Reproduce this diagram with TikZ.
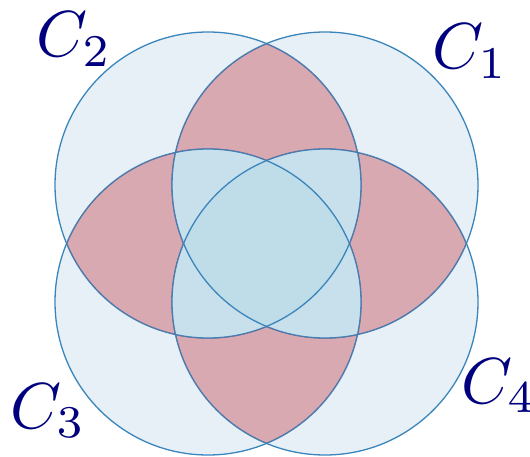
\documentclass[tikz,border=0pt]{standalone}
\usepackage{graphicx}
\definecolor{outerblue}{HTML}{E6F0F6}
\definecolor{lensred}{HTML}{D9A9B1}
\definecolor{tripleblue}{HTML}{C8E0EB}
\definecolor{quadblue}{HTML}{BFDCE9}
\definecolor{edgeblue}{HTML}{3A86BC}
\definecolor{edgepurple}{HTML}{66709E}
\definecolor{labelnavy}{HTML}{00007F}
\newcommand{\biglabel}[1]{\scalebox{6.5}{$#1$}}
\begin{document}
\begin{tikzpicture}[x=1pt,y=-1pt,
  lbl/.style={inner sep=0pt,anchor=base west,text=labelnavy},
  edge/.style={edgeblue,line width=1.3pt},
  redge/.style={edgepurple,line width=1.3pt}]
\useasboundingbox (0,0) rectangle (530,457);
\def\R{153}
\coordinate (c1) at (325,185);
\coordinate (c2) at (208,185);
\coordinate (c3) at (208,302);
\coordinate (c4) at (325,302);
\def\cA{(c1) circle[radius=\R]}
\def\cB{(c2) circle[radius=\R]}
\def\cC{(c3) circle[radius=\R]}
\def\cD{(c4) circle[radius=\R]}
\def\big{(-10,-10) rectangle (540,470)}
% base fill
\fill[outerblue] \cA; \fill[outerblue] \cB; \fill[outerblue] \cC; \fill[outerblue] \cD;
% pairwise lenses
\begin{scope}\clip \cA; \clip \cB; \fill[lensred] \big;\end{scope}
\begin{scope}\clip \cB; \clip \cC; \fill[lensred] \big;\end{scope}
\begin{scope}\clip \cC; \clip \cD; \fill[lensred] \big;\end{scope}
\begin{scope}\clip \cD; \clip \cA; \fill[lensred] \big;\end{scope}
% triples
\begin{scope}\clip \cA; \clip \cB; \clip \cC; \fill[tripleblue] \big;\end{scope}
\begin{scope}\clip \cA; \clip \cB; \clip \cD; \fill[tripleblue] \big;\end{scope}
\begin{scope}\clip \cA; \clip \cC; \clip \cD; \fill[tripleblue] \big;\end{scope}
\begin{scope}\clip \cB; \clip \cC; \clip \cD; \fill[tripleblue] \big;\end{scope}
% quadruple
\begin{scope}\clip \cA; \clip \cB; \clip \cC; \clip \cD; \fill[quadblue] \big;\end{scope}
% outlines
\draw[edge] \cA; \draw[edge] \cB; \draw[edge] \cC; \draw[edge] \cD;
% purple edges of red regions
\begin{scope}[even odd rule]\clip \cA; \clip \cB; \clip \big \cC; \clip \big \cD;
  \draw[redge] \cA; \draw[redge] \cB; \draw[redge] \cC; \draw[redge] \cD;
\end{scope}
\begin{scope}[even odd rule]\clip \cB; \clip \cC; \clip \big \cA; \clip \big \cD;
  \draw[redge] \cA; \draw[redge] \cB; \draw[redge] \cC; \draw[redge] \cD;
\end{scope}
\begin{scope}[even odd rule]\clip \cC; \clip \cD; \clip \big \cA; \clip \big \cB;
  \draw[redge] \cA; \draw[redge] \cB; \draw[redge] \cC; \draw[redge] \cD;
\end{scope}
\begin{scope}[even odd rule]\clip \cD; \clip \cA; \clip \big \cB; \clip \big \cC;
  \draw[redge] \cA; \draw[redge] \cB; \draw[redge] \cC; \draw[redge] \cD;
\end{scope}
% labels
\node[lbl] (l2) at (36,57) {\biglabel{C_2}};
\node[lbl] (l1) at (432,69) {\biglabel{C_1}};
\node[lbl] (l3) at (10,428) {\biglabel{C_3}};
\node[lbl] (l4) at (461,403) {\biglabel{C_4}};
\end{tikzpicture}
\end{document}
